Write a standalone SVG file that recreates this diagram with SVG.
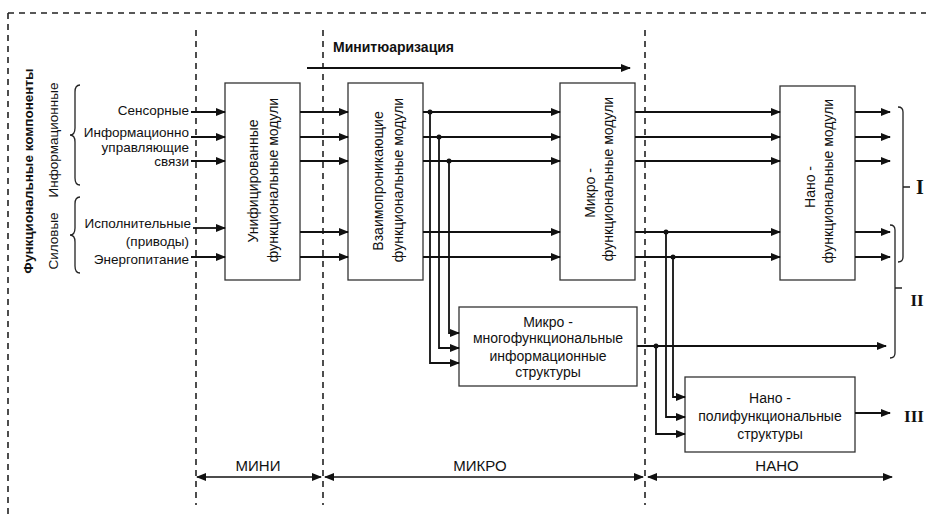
<svg xmlns="http://www.w3.org/2000/svg" width="926" height="519" viewBox="0 0 926 519">
<style>
.t{font-family:"Liberation Sans",Arial,sans-serif;font-size:14px;fill:#111}
.lb{font-family:"Liberation Sans",Arial,sans-serif;font-size:13.5px;fill:#111}
.b{font-weight:bold}
.rn{font-family:"Liberation Serif","Times New Roman",serif;font-weight:bold;fill:#111}
.box{fill:#fff;stroke:#333;stroke-width:1.3}
.c{fill:none;stroke:#111;stroke-width:1.8}
.a{fill:none;stroke:#111;stroke-width:1.8;marker-end:url(#ah)}
.d{fill:none;stroke:#111;stroke-width:1.6;marker-start:url(#ah);marker-end:url(#ah)}
.dash{fill:none;stroke:#222;stroke-width:1.6;stroke-dasharray:6 5}
.br{fill:none;stroke:#222;stroke-width:1.3}
</style>
<defs>
<marker id="ah" markerUnits="userSpaceOnUse" markerWidth="10" markerHeight="8" refX="9" refY="4" orient="auto-start-reverse">
<path d="M0,0 L10,4 L0,8 z" fill="#111"/>
</marker>
</defs>
<rect width="926" height="519" fill="#fff"/>

<g id="frame">
<path class="dash" d="M8,13 H926 M8,13 V519" stroke-dasharray="5 6"/>
<path class="dash" d="M196,30 V505 M323,30 V505 M645,30 V505"/>
</g>

<g id="left-labels">
<text class="lb b" transform="translate(33,171) rotate(-90)" text-anchor="middle" font-size="13">Функциональные компоненты</text>
<text class="lb" transform="translate(58,140) rotate(-90)" text-anchor="middle">Информационные</text>
<text class="lb" transform="translate(58,241) rotate(-90)" text-anchor="middle">Силовые</text>
<path class="br" d="M80,85 Q75,85 75,92 L75,128 Q75,135 70,135 Q75,135 75,142 L75,178 Q75,185 80,185"/>
<path class="br" d="M80,197 Q75,197 75,204 L75,228 Q75,235 70,235 Q75,235 75,242 L75,266 Q75,273 80,273"/>
<g text-anchor="end" class="lb">
<text x="189" y="115">Сенсорные</text>
<text x="189" y="137">Информационно</text>
<text x="189" y="152">управляющие</text>
<text x="189" y="166">связи</text>
<text x="191" y="228">Исполнительные</text>
<text x="189" y="246">(приводы)</text>
<text x="189" y="264">Энергопитание</text>
</g>
</g>

<g id="title">
<text class="t b" x="333" y="52" font-size="15">Минитюаризация</text>
</g>

<g id="n1">
<rect class="box" x="225" y="83" width="75" height="197"/>
<text class="t" transform="translate(258,181) rotate(-90)" text-anchor="middle">Унифицированные</text>
<text class="t" transform="translate(278,180) rotate(-90)" text-anchor="middle">функциональные модули</text>
</g>
<g id="n2">
<rect class="box" x="348" y="83" width="75" height="197"/>
<text class="t" transform="translate(383,181) rotate(-90)" text-anchor="middle">Взаимопроникающие</text>
<text class="t" transform="translate(403,180) rotate(-90)" text-anchor="middle">функциональные модули</text>
</g>
<g id="n3">
<rect class="box" x="560" y="83" width="75" height="197"/>
<text class="t" transform="translate(595,193) rotate(-90)" text-anchor="middle">Микро -</text>
<text class="t" transform="translate(613,179) rotate(-90)" text-anchor="middle">функциональные модули</text>
</g>
<g id="n6">
<rect class="box" x="780" y="86" width="75" height="194"/>
<text class="t" transform="translate(815,187) rotate(-90)" text-anchor="middle">Нано -</text>
<text class="t" transform="translate(833,181) rotate(-90)" text-anchor="middle">функциональные модули</text>
</g>
<g id="n4">
<rect class="box" x="459" y="307" width="178" height="79"/>
<g class="t" text-anchor="middle">
<text x="548" y="327">Микро -</text>
<text x="548" y="343">многофункциональные</text>
<text x="548" y="361">информационные</text>
<text x="548" y="377">структуры</text>
</g>
</g>
<g id="n5">
<rect class="box" x="685" y="377" width="170" height="75"/>
<g class="t" text-anchor="middle">
<text x="770" y="403">Нано -</text>
<text x="770" y="421">полифункциональные</text>
<text x="770" y="439">структуры</text>
</g>
</g>

<g id="connectors">
<path class="a" d="M307,68 H630" stroke-width="2.4"/>
<path class="a" d="M191,112 H225"/>
<path class="a" d="M191,137 H225"/>
<path class="a" d="M191,161 H225"/>
<path class="a" d="M193,228 H225"/>
<path class="a" d="M191,257 H225"/>
<path class="a" d="M300,112 H348"/>
<path class="a" d="M300,137 H348"/>
<path class="a" d="M300,161 H348"/>
<path class="a" d="M300,232 H348"/>
<path class="a" d="M300,257 H348"/>
<path class="a" d="M423,112 H560"/>
<path class="a" d="M423,137 H560"/>
<path class="a" d="M423,161 H560"/>
<path class="a" d="M423,232 H560"/>
<path class="a" d="M423,257 H560"/>
<path class="a" d="M430,112 V363 H459"/>
<path class="a" d="M439,137 V348 H459"/>
<path class="a" d="M449,161 V333 H459"/>
<circle cx="430" cy="112" r="2.5" fill="#111"/>
<circle cx="439" cy="137" r="2.5" fill="#111"/>
<circle cx="449" cy="161" r="2.5" fill="#111"/>
<path class="a" d="M635,112 H780"/>
<path class="a" d="M635,137 H780"/>
<path class="a" d="M635,161 H780"/>
<path class="a" d="M635,232 H780"/>
<path class="a" d="M635,257 H780"/>
<path class="a" d="M666,232 V417 H685"/>
<path class="a" d="M673,257 V397 H685"/>
<circle cx="666" cy="232" r="2.5" fill="#111"/>
<circle cx="673" cy="257" r="2.5" fill="#111"/>
<path class="a" d="M637,346 H886"/>
<path class="a" d="M656,346 V434 H685"/>
<circle cx="656" cy="346" r="2.5" fill="#111"/>
<path class="a" d="M855,112 H890"/>
<path class="a" d="M855,137 H890"/>
<path class="a" d="M855,161 H890"/>
<path class="a" d="M855,232 H890"/>
<path class="a" d="M855,257 H890"/>
<path class="a" d="M855,413 H890"/>
<path class="d" d="M197,477 H321"/>
<path class="d" d="M325,477 H643"/>
<path class="d" d="M648,477 H892"/>
</g>

<g id="right-groups">
<path class="br" d="M898,107 Q903,107 903,112 L903,257 Q903,262 898,262 M903,187 H910"/>
<path class="br" d="M890,225 Q895,225 895,230 L895,353 Q895,358 890,358 M895,288 H902"/>
<text class="rn" x="920" y="194" font-size="20" text-anchor="middle">I</text>
<text class="rn" x="917" y="306" font-size="17" text-anchor="middle">II</text>
<text class="rn" x="914" y="422" font-size="17" text-anchor="middle">III</text>
</g>

<g id="scale-labels" class="t" text-anchor="middle" font-size="15">
<text x="258" y="471" font-size="15">МИНИ</text>
<text x="480" y="471" font-size="15">МИКРО</text>
<text x="777" y="471" font-size="15">НАНО</text>
</g>
</svg>
